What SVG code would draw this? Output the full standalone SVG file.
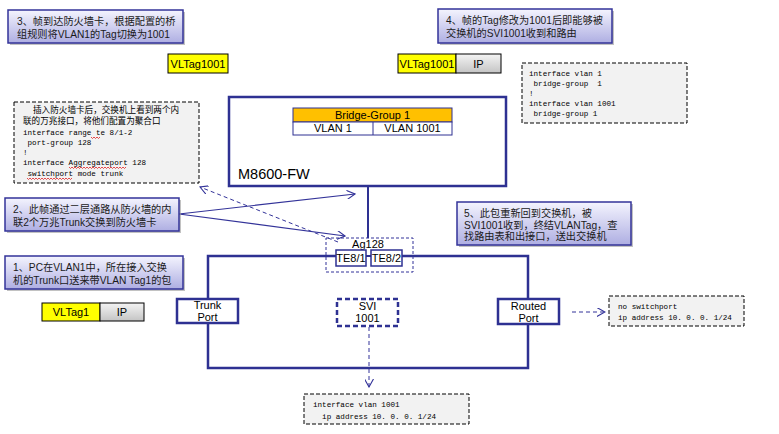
<svg xmlns="http://www.w3.org/2000/svg" width="779" height="434" viewBox="0 0 779 434">
<defs>
<linearGradient id="cg" x1="0" y1="0" x2="0" y2="1"><stop offset="0" stop-color="#f4f4fe"/><stop offset="1" stop-color="#aeaee2"/></linearGradient>
<linearGradient id="ig" x1="0" y1="0" x2="0" y2="1"><stop offset="0" stop-color="#f4f4f4"/><stop offset="1" stop-color="#c4c4c4"/></linearGradient>
<marker id="oa" viewBox="0 0 10 10" refX="9" refY="5" markerWidth="9" markerHeight="9" orient="auto" markerUnits="userSpaceOnUse"><path d="M0,0 L9,5 L0,10" fill="none" stroke="#333399" stroke-width="1.2"/></marker>
</defs>
<style>
.call{fill:url(#cg);stroke:#333399;stroke-width:1.5}
.sh{fill:#9a9a9a;opacity:.6}
.ct{font-family:"Liberation Sans","Noto Sans CJK SC",sans-serif;font-size:10.2px;fill:#1a1a1a}
.lbl{font-family:"Liberation Sans","Noto Sans CJK SC",sans-serif;font-size:11px;fill:#000}
.cfg{fill:#f2f2f2;stroke:#000;stroke-width:1;stroke-dasharray:4,2}
.mono{font-family:"Liberation Mono","Noto Sans CJK SC",monospace;font-size:7.6px;fill:#000;white-space:pre}
.cjk{font-family:"Noto Sans CJK SC",sans-serif;font-size:8.6px;fill:#000}
.tag{fill:#ffff00;stroke:#000;stroke-width:1}
.ip{fill:url(#ig);stroke:#000;stroke-width:1}
.thick{fill:none;stroke:#2e3192;stroke-width:2.5}
.port{fill:#fff;stroke:#2e3192;stroke-width:2.5}
.dash{fill:none;stroke:#333399;stroke-width:1;stroke-dasharray:4,3}
.sol{fill:none;stroke:#333399;stroke-width:1.2}
.wav{fill:none;stroke:#e02020;stroke-width:.8}
</style>

<g id="callout3">
<rect class="sh" x="10" y="12" width="175" height="33"/>
<rect class="call" x="8" y="10" width="175" height="33"/>
<text class="ct" x="17" y="25">3、帧到达防火墙卡，根据配置的桥</text>
<text class="ct" x="17" y="38">组规则将VLAN1的Tag切换为1001</text>
</g>

<g id="tag1001a">
<rect class="tag" x="168" y="54" width="60" height="19"/>
<text class="lbl" x="198" y="67.5" text-anchor="middle">VLTag1001</text>
</g>

<g id="callout4">
<rect class="sh" x="440" y="11" width="174" height="34"/>
<rect class="call" x="438" y="9" width="174" height="34"/>
<text class="ct" x="446" y="24">4、帧的Tag修改为1001后即能够被</text>
<text class="ct" x="446" y="37">交换机的SVI1001收到和路由</text>
</g>

<g id="tag1001b">
<rect class="tag" x="398" y="54" width="58" height="19"/>
<rect class="ip" x="456" y="54" width="45" height="19"/>
<text class="lbl" x="427" y="67.5" text-anchor="middle">VLTag1001</text>
<text class="lbl" x="478.5" y="67.5" text-anchor="middle">IP</text>
</g>

<g id="cfg-bridge">
<rect class="cfg" x="522" y="63" width="165" height="60"/>
<text class="mono" x="529" y="76">interface vlan 1</text>
<text class="mono" x="529" y="86"> bridge-group  1</text>
<text class="mono" x="529" y="96">!</text>
<text class="mono" x="529" y="106">interface vlan 1001</text>
<text class="mono" x="529" y="116"> bridge-group 1</text>
</g>

<g id="cfg-ag">
<rect class="cfg" x="14" y="102" width="185" height="81"/>
<text class="cjk" x="33" y="113">插入防火墙卡后，交换机上看到两个内</text>
<text class="cjk" x="23" y="124">联的万兆接口，将他们配置为聚合口</text>
<text class="mono" x="23" y="135">interface range te 8/1-2</text>
<text class="mono" x="23" y="145"> port-group 128</text>
<text class="mono" x="23" y="155">!</text>
<text class="mono" x="23" y="165">interface Aggregateport 128</text>
<text class="mono" x="23" y="176"> switchport mode trunk</text>
<path class="wav" d="M91,137 l1.5,1.5 l1.5,-1.5 l1.5,1.5 l1.5,-1.5 l1.5,1.5 l1.5,-1.5"/>
<path class="wav" d="M69,167 l1.5,1.5 l1.5,-1.5 l1.5,1.5 l1.5,-1.5 l1.5,1.5 l1.5,-1.5 l1.5,1.5 l1.5,-1.5 l1.5,1.5 l1.5,-1.5 l1.5,1.5 l1.5,-1.5 l1.5,1.5 l1.5,-1.5 l1.5,1.5 l1.5,-1.5 l1.5,1.5 l1.5,-1.5 l1.5,1.5 l1.5,-1.5 l1.5,1.5 l1.5,-1.5 l1.5,1.5 l1.5,-1.5 l1.5,1.5 l1.5,-1.5 l1.5,1.5 l1.5,-1.5 l1.5,1.5 l1.5,-1.5 l1.5,1.5 l1.5,-1.5 l1.5,1.5 l1.5,-1.5 l1.5,1.5 l1.5,-1.5 l1.5,1.5 l1.5,-1.5"/>
<path class="wav" d="M27,178 l1.5,1.5 l1.5,-1.5 l1.5,1.5 l1.5,-1.5 l1.5,1.5 l1.5,-1.5 l1.5,1.5 l1.5,-1.5 l1.5,1.5 l1.5,-1.5 l1.5,1.5 l1.5,-1.5 l1.5,1.5 l1.5,-1.5 l1.5,1.5 l1.5,-1.5 l1.5,1.5 l1.5,-1.5 l1.5,1.5 l1.5,-1.5 l1.5,1.5 l1.5,-1.5 l1.5,1.5 l1.5,-1.5 l1.5,1.5 l1.5,-1.5 l1.5,1.5 l1.5,-1.5 l1.5,1.5 l1.5,-1.5"/>
</g>

<g id="firewall">
<rect class="thick" x="229" y="97" width="277" height="89" fill="#fff"/>
<rect x="293" y="108" width="159" height="14" fill="#ffc000" stroke="#2e3192" stroke-width="1"/>
<rect x="293" y="122" width="159" height="13" fill="#fff" stroke="#2e3192" stroke-width="1"/>
<line x1="373" y1="122" x2="373" y2="135" stroke="#2e3192" stroke-width="1"/>
<text class="lbl" x="372.5" y="119" text-anchor="middle">Bridge-Group 1</text>
<text class="lbl" x="333" y="132" text-anchor="middle">VLAN 1</text>
<text class="lbl" x="412.5" y="132" text-anchor="middle">VLAN 1001</text>
<text x="238" y="179" font-family="Liberation Sans,sans-serif" font-size="14.5px" fill="#000">M8600-FW</text>
</g>

<g id="connectors">
<line x1="368" y1="186" x2="368" y2="238" stroke="#2e3192" stroke-width="2"/>
<polyline class="thick" points="336,256 208,256 208,368 528,368 528,256 402,256"/>
<line x1="366" y1="256" x2="371" y2="256" stroke="#2e3192" stroke-width="2"/>
<line class="sol" x1="179" y1="214" x2="355" y2="194" marker-end="url(#oa)"/>
<line class="sol" x1="179" y1="214" x2="345" y2="236" marker-end="url(#oa)"/>
<line class="dash" x1="338" y1="242" x2="200" y2="187" marker-end="url(#oa)"/>
<line class="dash" x1="369" y1="327" x2="369" y2="387" marker-end="url(#oa)"/>
<line class="dash" x1="572" y1="312" x2="605" y2="312" marker-end="url(#oa)"/>
</g>

<g id="callout2">
<rect class="sh" x="7" y="200" width="174" height="33"/>
<rect class="call" x="5" y="198" width="174" height="33"/>
<text class="ct" x="13" y="213">2、此帧通过二层通路从防火墙的内</text>
<text class="ct" x="13" y="226">联2个万兆Trunk交换到防火墙卡</text>
</g>

<g id="callout1">
<rect class="sh" x="7" y="258" width="178" height="33"/>
<rect class="call" x="5" y="256" width="178" height="33"/>
<text class="ct" x="13" y="271">1、PC在VLAN1中，所在接入交换</text>
<text class="ct" x="13" y="284">机的Trunk口送来带VLAN Tag1的包</text>
</g>

<g id="tag1">
<rect class="tag" x="42" y="303" width="58" height="18"/>
<rect class="ip" x="100" y="303" width="44" height="18"/>
<text class="lbl" x="71" y="316" text-anchor="middle">VLTag1</text>
<text class="lbl" x="122" y="316" text-anchor="middle">IP</text>
</g>

<g id="callout5">
<rect class="sh" x="459" y="204" width="174" height="43"/>
<rect class="call" x="457" y="202" width="174" height="43"/>
<text class="ct" x="464" y="217">5、此包重新回到交换机，被</text>
<text class="ct" x="464" y="228.5">SVI1001收到，终结VLANTag，查</text>
<text class="ct" x="464" y="240">找路由表和出接口，送出交换机</text>
</g>

<g id="ag128">
<rect x="326" y="238" width="87" height="34" fill="none" stroke="#333399" stroke-width="1" stroke-dasharray="3,2"/>
<text class="lbl" x="368" y="247.5" text-anchor="middle" font-size="10.5px">Ag128</text>
<rect x="336" y="250" width="30" height="16" fill="#fff" stroke="#2e3192" stroke-width="1.5"/>
<rect x="371" y="250" width="31" height="16" fill="#fff" stroke="#2e3192" stroke-width="1.5"/>
<text class="lbl" x="351" y="262" text-anchor="middle">TE8/1</text>
<text class="lbl" x="386.5" y="262" text-anchor="middle">TE8/2</text>
</g>

<g id="trunk-port">
<rect class="port" x="177" y="299" width="61" height="24"/>
<text class="lbl" x="207.5" y="309" text-anchor="middle">Trunk</text>
<text class="lbl" x="207.5" y="321" text-anchor="middle">Port</text>
</g>

<g id="svi1001">
<rect x="337" y="299" width="61" height="27" fill="#fff" stroke="#2e3192" stroke-width="2.5" stroke-dasharray="5,3"/>
<text class="lbl" x="367.5" y="310" text-anchor="middle">SVI</text>
<text class="lbl" x="367.5" y="322" text-anchor="middle">1001</text>
</g>

<g id="routed-port">
<rect class="port" x="498" y="299" width="61" height="25"/>
<text class="lbl" x="528.5" y="309.5" text-anchor="middle">Routed</text>
<text class="lbl" x="528.5" y="321.5" text-anchor="middle">Port</text>
</g>

<g id="cfg-svi">
<rect class="cfg" x="304" y="394" width="165" height="30"/>
<text class="mono" x="313" y="407">interface vlan 1001</text>
<text class="mono" x="313" y="419">  ip address 10. 0. 0. 1/24</text>
</g>

<g id="cfg-routed">
<rect class="cfg" x="609" y="296" width="135" height="30"/>
<text class="mono" x="618" y="309">no switchport</text>
<text class="mono" x="618" y="320">ip address 10. 0. 0. 1/24</text>
</g>
</svg>
